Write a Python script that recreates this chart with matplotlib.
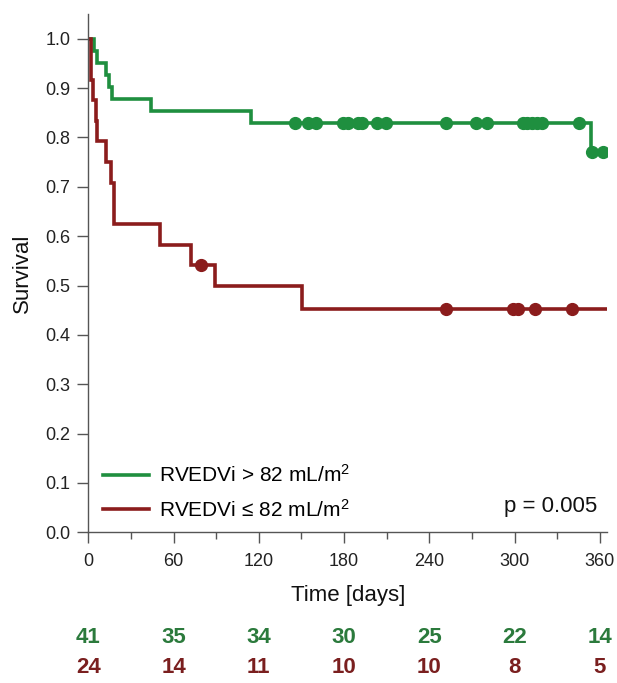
import matplotlib
matplotlib.use("Agg")
import matplotlib.pyplot as plt
import matplotlib.transforms as mtransforms
import numpy as np

plt.rcParams['font.family'] = ['Liberation Sans', 'DejaVu Sans']
plt.rcParams['mathtext.default'] = 'regular'

# Kaplan-Meier steps
green_t = [0, 4.0, 5.9, 12.2, 14.6, 16.7, 43.9, 114.3, 353.8, 362.4]
green_s = [1.0, 0.976, 0.951, 0.927, 0.902, 0.878, 0.854, 0.829, 0.771, 0.771]
red_t = [0, 1.7, 3.5, 5.2, 5.9, 12.5, 16.0, 18.3, 50.5, 72.0, 89.2, 150.6, 364.8]
red_s = [1.0, 0.917, 0.875, 0.833, 0.792, 0.750, 0.708, 0.625, 0.583, 0.541, 0.500, 0.453, 0.453]

# censored observations (days)
green_cens = [145.5, 154.8, 160.2, 179.5, 183.0, 190.0, 192.4, 203.0, 209.5, 251.7,
              272.8, 280.4, 305.7, 309.0, 312.4, 315.6, 319.1, 345.6, 354.2, 362.4]
red_cens = [79.1, 251.7, 299.1, 302.6, 314.4, 340.2]

# numbers at risk
risk_days = [0, 60, 120, 180, 240, 300, 360]
green_risk = [41, 35, 34, 30, 25, 22, 14]
red_risk = [24, 14, 11, 10, 10, 8, 5]

green = '#1f8f3f'
red = '#8b1c1c'
green_txt = '#2b7a3c'
red_txt = '#7a1f1f'


def step_value(t, s, c):
    i = np.searchsorted(t, c, side='right') - 1
    return np.array(s)[i]


fig = plt.figure(figsize=(6.17, 6.83), dpi=100)
ax = fig.add_axes([0.1431, 0.2206, 0.8412, 0.7589])

ax.plot(green_t, green_s, drawstyle='steps-post', color=green, lw=2.6,
        label='RVEDVi > 82 mL/m$^2$', solid_joinstyle='miter')
ax.plot(red_t, red_s, drawstyle='steps-post', color=red, lw=2.6,
        label='RVEDVi ≤ 82 mL/m$^2$', solid_joinstyle='miter')
ax.plot(green_cens, step_value(green_t, green_s, green_cens), 'o', color=green, ms=8.5)
ax.plot(red_cens, step_value(red_t, red_s, red_cens), 'o', color=red, ms=8.5)

ax.set_xlim(0, 365.2)
ax.set_ylim(0, 1.05)
ax.set_xticks(risk_days)
ax.set_xticks(np.arange(30, 360, 60), minor=True)
ax.set_yticks(np.arange(0, 1.01, 0.1))
ax.set_yticklabels(['%.1f' % v for v in np.arange(0, 1.01, 0.1)])
for side in ['top', 'right']:
    ax.spines[side].set_visible(False)
for side in ['left', 'bottom']:
    ax.spines[side].set_color('#555555')
    ax.spines[side].set_linewidth(1.0)
ax.tick_params(axis='both', which='major', direction='out', length=8, width=1,
               color='#555555', labelsize=13, labelcolor='#222222')
ax.tick_params(axis='y', pad=5)
ax.tick_params(axis='x', pad=7)
ax.tick_params(axis='x', which='minor', direction='out', length=5, width=1, color='#555555')

ax.set_xlabel('Time [days]', fontsize=16, color='#111111', labelpad=11)
ax.set_ylabel('Survival', fontsize=16, color='#111111', labelpad=9)

ax.legend(loc='lower left', bbox_to_anchor=(0.0, -0.005), frameon=False, fontsize=15,
          handlelength=2.2, handletextpad=0.5, labelspacing=0.6, borderaxespad=0.3)
ax.text(0.98, 0.05, 'p = 0.005', transform=ax.transAxes, ha='right', va='center',
        fontsize=16, color='#111111')

trans = mtransforms.blended_transform_factory(ax.transData, fig.transFigure)
for d, g, r in zip(risk_days, green_risk, red_risk):
    ax.text(d, 0.0673, str(g), transform=trans, ha='center', va='center',
            fontsize=16, fontweight='bold', color=green_txt)
    ax.text(d, 0.022, str(r), transform=trans, ha='center', va='center',
            fontsize=16, fontweight='bold', color=red_txt)

fig.savefig('out.png', dpi=100)
